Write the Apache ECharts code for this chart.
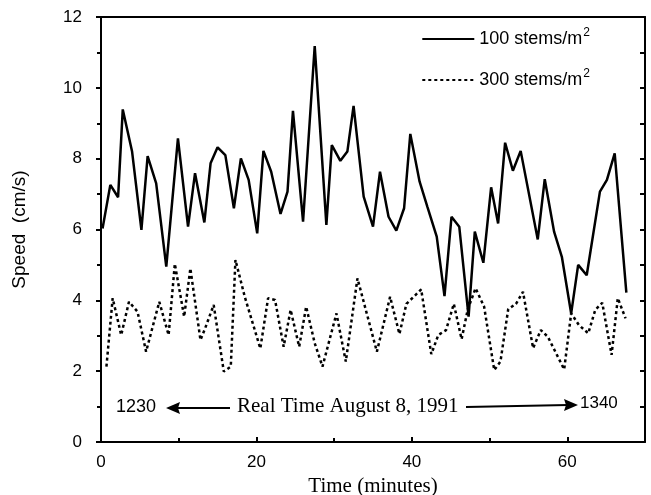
<!DOCTYPE html>
<html>
<head>
<meta charset="utf-8">
<script src="https://cdn.jsdelivr.net/npm/echarts@6/dist/echarts.min.js"></script>
<style>html,body{margin:0;padding:0;background:#fff}#c{width:651px;height:495px}</style>
</head>
<body>
<div id="c"></div>
<script>
// Time (minutes) and speed (cm/s) for 100 stems/m^2
var t100 = [0.2,1.2,2.2,2.8,4.0,5.2,6.0,7.1,8.4,9.9,11.2,12.1,13.3,14.1,15.0,16.0,17.1,18.0,19.0,20.1,20.9,21.9,23.1,24.0,24.7,26.0,27.5,29.0,29.7,30.8,31.7,32.5,33.8,35.0,35.9,37.0,38.0,39.0,39.8,41.0,42.0,43.2,44.2,45.1,46.1,47.3,48.1,49.2,50.2,51.1,52.0,53.0,54.0,56.2,57.1,58.3,59.3,60.5,61.4,62.5,64.2,65.1,66.1,67.6];
var v100 = [6.03,7.26,6.91,9.39,8.2,5.99,8.07,7.3,4.95,8.57,6.08,7.59,6.2,7.87,8.32,8.1,6.6,8.01,7.4,5.89,8.22,7.63,6.44,7.07,9.35,6.22,11.18,6.13,8.38,7.94,8.2,9.49,6.93,6.08,7.63,6.36,5.97,6.6,8.7,7.35,6.64,5.8,4.12,6.36,6.08,3.54,5.94,5.06,7.19,6.17,8.45,7.66,8.22,5.72,7.42,5.94,5.23,3.63,5.0,4.71,7.07,7.4,8.15,4.22];
// Time (minutes) and speed (cm/s) for 300 stems/m^2
var t300 = [0.7,1.5,2.6,3.6,4.7,5.8,7.5,8.7,9.5,10.7,11.5,12.8,13.4,14.5,15.8,16.7,17.3,18.5,20.5,21.5,22.4,23.5,24.4,25.5,26.4,27.5,28.5,30.3,31.5,33.0,35.5,37.2,38.4,39.3,40.7,41.2,42.5,43.4,44.4,45.4,46.4,47.2,48.2,49.3,50.6,51.4,52.4,53.4,54.3,55.6,56.6,57.5,59.6,60.5,61.5,62.7,63.6,64.5,65.7,66.5,67.5];
var v300 = [2.13,4.06,3.02,3.96,3.68,2.55,3.96,3.02,5.03,3.54,4.9,2.88,3.21,3.87,1.99,2.13,5.14,4.1,2.64,4.06,4.01,2.69,3.73,2.69,3.82,2.79,2.13,3.63,2.27,4.62,2.55,4.1,3.05,3.9,4.2,4.31,2.48,3.02,3.16,3.9,2.9,3.75,4.34,3.82,2.03,2.27,3.75,3.9,4.24,2.65,3.16,2.97,2.05,3.63,3.3,3.07,3.73,3.93,2.46,4.06,3.49];
var seriesNames = ['100 stems/m2', '300 stems/m2'];
var xTicks = [0, 20, 40, 60];
var yTicks = [0, 2, 4, 6, 8, 10, 12];

function pairs(t, v) { return t.map(function (x, i) { return [x, v[i]]; }); }

var chart = echarts.init(document.getElementById('c'), null, {renderer: 'canvas'});
var black = '#000';
var sans = 'Liberation Sans';
var serif = 'Liberation Serif';

chart.setOption({
  animation: false,
  backgroundColor: '#fff',
  grid: {left: 101, right: 6, top: 17, bottom: 53, containLabel: false, outerBoundsMode: 'none'},
  legend: {
    orient: 'vertical',
    right: 56,
    top: 22,
    itemWidth: 52,
    itemHeight: 14,
    itemGap: 20,
    data: seriesNames,
    itemStyle: {opacity: 0},
    formatter: function (n) { return '{a|' + n.slice(0, -1) + '}{s|2}'; },
    textStyle: {
      color: black,
      rich: {
        a: {fontFamily: sans, fontSize: 18, color: black},
        s: {fontFamily: sans, fontSize: 12, color: black, verticalAlign: 'top', padding: [0, 0, 12, 1]}
      }
    }
  },
  xAxis: [{
    type: 'value', min: 0, max: 70, interval: 20,
    name: 'Time (minutes)', nameLocation: 'middle', nameGap: 22,
    nameTextStyle: {fontFamily: serif, fontSize: 21, color: black},
    axisLine: {show: true, onZero: false, lineStyle: {color: black, width: 2}},
    axisTick: {show: true, inside: true, length: 5, lineStyle: {color: black, width: 2}},
    minorTick: {show: true, splitNumber: 2, length: 4, lineStyle: {color: black, width: 2}},
    axisLabel: {fontFamily: sans, fontSize: 17, color: black, margin: 12, showMaxLabel: false,
      formatter: function (v) { return xTicks.indexOf(v) >= 0 ? String(v) : ''; }},
    splitLine: {show: false}
  }, {
    type: 'value', min: 0, max: 70, position: 'top',
    axisLine: {show: true, onZero: false, lineStyle: {color: black, width: 2}},
    axisTick: {show: false}, axisLabel: {show: false}, splitLine: {show: false}
  }],
  yAxis: [{
    type: 'value', min: 0, max: 12, interval: 2,
    name: 'Speed  (cm/s)', nameLocation: 'middle', nameGap: 72, nameRotate: 90,
    nameTextStyle: {fontFamily: sans, fontSize: 19, color: black},
    axisLine: {show: true, onZero: false, lineStyle: {color: black, width: 2}},
    axisTick: {show: true, inside: false, length: 5, lineStyle: {color: black, width: 2}},
    minorTick: {show: true, splitNumber: 2, length: 4, lineStyle: {color: black, width: 2}},
    axisLabel: {fontFamily: sans, fontSize: 17, color: black, margin: 19,
      formatter: function (v) { return yTicks.indexOf(v) >= 0 ? String(v) : ''; }},
    splitLine: {show: false}
  }, {
    type: 'value', min: 0, max: 12, interval: 1, position: 'right',
    axisLine: {show: true, onZero: false, lineStyle: {color: black, width: 2}},
    axisTick: {show: true, inside: true, length: 5, lineStyle: {color: black, width: 2}},
    axisLabel: {show: false}, splitLine: {show: false}
  }],
  series: [{
    name: seriesNames[0], type: 'line', data: pairs(t100, v100),
    symbol: 'none', xAxisIndex: 0, yAxisIndex: 0,
    lineStyle: {color: black, width: 2.5, type: 'solid'},
    itemStyle: {color: black}
  }, {
    name: seriesNames[1], type: 'line', data: pairs(t300, v300),
    symbol: 'none', xAxisIndex: 0, yAxisIndex: 0,
    lineStyle: {color: black, width: 2.5, type: [3, 3]},
    itemStyle: {color: black}
  }],
  graphic: [
    {type: 'text', left: 116, top: 398, style: {text: '1230', font: '18px "Liberation Sans"', fill: black}},
    {type: 'line', shape: {x1: 176, y1: 408, x2: 230, y2: 408}, style: {stroke: black, lineWidth: 2}},
    {type: 'polygon', shape: {points: [[166, 408], [180, 402], [178, 408], [180, 414]]}, style: {fill: black}},
    {type: 'text', left: 237, top: 396, style: {text: 'Real Time August 8, 1991', font: '21px "Liberation Serif"', fill: black}},
    {type: 'line', shape: {x1: 466, y1: 407, x2: 568, y2: 405}, style: {stroke: black, lineWidth: 2}},
    {type: 'polygon', shape: {points: [[578, 405], [564, 399], [566, 405], [564, 411]]}, style: {fill: black}},
    {type: 'text', left: 580, top: 395, style: {text: '1340', font: '17px "Liberation Sans"', fill: black}}
  ]
});
</script>
</body>
</html>
